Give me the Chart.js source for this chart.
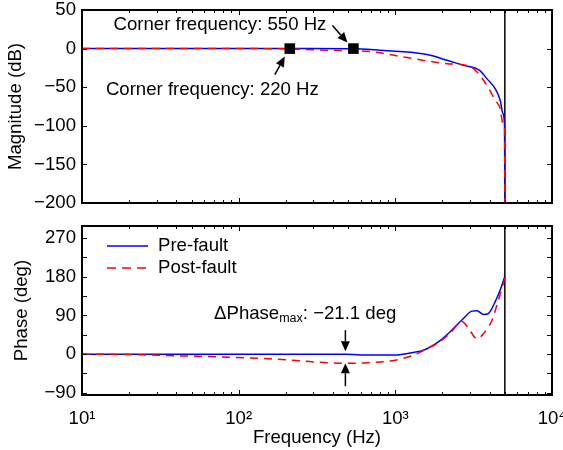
<!DOCTYPE html>
<html>
<head>
<meta charset="utf-8">
<script src="https://cdn.jsdelivr.net/npm/chart.js@4.4.1/dist/chart.umd.min.js"></script>
<style>
  html, body { margin: 0; padding: 0; background: #fff; }
  #wrap { position: relative; width: 563px; height: 450px; }
  #magChart { position: absolute; left: 0; top: 0; }
  #phaseChart { position: absolute; left: 0; top: 215px; }
</style>
</head>
<body>
<div id="wrap">
  <canvas id="magChart" width="563" height="215"></canvas>
  <canvas id="phaseChart" width="563" height="235"></canvas>
</div>
<script>
// magnitude (dB), pre-fault
const magFreqPre = [10, 100, 300, 550, 660, 800, 1000, 1300, 1670, 2140, 2720, 3450, 3840, 4340, 4670, 4860, 4980, 5000];
const magPre = [0, 0, 0, -0.3, -0.9, -2.2, -3.4, -5.2, -8.7, -15.2, -21.7, -28.1, -38.9, -51.9, -67, -84, -101, -200];
// magnitude (dB), post-fault
const magFreqPost = [10, 100, 200, 300, 450, 660, 800, 1000, 1300, 2140, 3000, 3320, 3840, 4340, 4670, 4860, 4980, 5000];
const magPost = [0, 0, -0.3, -1.5, -2.5, -3.5, -5.5, -9, -13, -19.5, -23, -30.3, -47.6, -67, -77.8, -97, -100, -200];

// phase (deg), pre-fault
const phFreqPre = [10, 100, 480, 600, 1000, 1300, 1510, 1890, 2240, 2720, 3080, 3320, 3660, 3940, 4340, 4670, 4900, 5000];
const phPre = [0, 0, 0, -2, -2, 4, 9, 29, 52, 83, 100, 101, 92, 95, 122, 149, 172, 180];
// phase (deg), post-fault
const phFreqPost = [10, 20, 42, 100, 200, 300, 480, 660, 1000, 1300, 1600, 1890, 2240, 2660, 2930, 3320, 3660, 4140, 4450, 4790, 5000];
const phPost = [0, -1, -4, -8, -13, -18, -21.1, -20, -14, -2.5, 13, 27, 49, 76, 60, 36, 48, 79, 114, 153, 178];

// corner frequency markers
const cornerFreq = [212, 540];
const cornerMag = [0, 0];
const cornerText = ['Corner frequency: 220 Hz', 'Corner frequency: 550 Hz'];

// max phase difference
const dPhaseFreq = 480;
const dPhasePre = 0;
const dPhasePost = -21.1;

const nyquist = 5000;

// axis ticks
const decades = [10, 100, 1000, 10000];
const decadeLabels = ['10\u00B9', '10\u00B2', '10\u00B3', '10\u2074'];
const minorSteps = [2, 3, 4, 5, 6, 7, 8, 9];
const magTicks = [-200, -150, -100, -50, 0, 50];
const phaseTicks = [-90, -45, 0, 45, 90, 135, 180, 225, 270];
const phaseLabels = [-90, 0, 90, 180, 270];

const freqTicks = [];
decades.forEach((d, i) => {
    freqTicks.push(d);
    if (i < decades.length - 1) minorSteps.forEach(m => freqTicks.push(d * m));
});

const toPoints = (xs, ys) => xs.map((x, i) => ({ x: x, y: ys[i] }));
const minus = v => String(v).replace('-', '\u2212');

const FONT = "'Liberation Sans', Arial, sans-serif";
Chart.defaults.font.family = FONT;
Chart.defaults.font.size = 18.6;
Chart.defaults.color = '#000';
Chart.defaults.animation = false;

const BLUE = '#0000ff';
const RED = '#ff0000';

// box around the plot with inward tick marks on all four sides
const boxPlugin = {
    id: 'box',
    afterDatasetsDraw(chart) {
        const { ctx, chartArea: a, scales: { x, y } } = chart;
        ctx.save();
        ctx.strokeStyle = '#000';
        ctx.lineWidth = 1;
        ctx.beginPath();
        x.ticks.forEach(t => {
            const px = Math.round(x.getPixelForValue(t.value)) + 0.5;
            const len = decades.includes(t.value) ? 5 : 3;
            ctx.moveTo(px, a.bottom); ctx.lineTo(px, a.bottom - len);
            ctx.moveTo(px, a.top); ctx.lineTo(px, a.top + len);
        });
        y.ticks.forEach(t => {
            const py = Math.round(y.getPixelForValue(t.value)) + 0.5;
            ctx.moveTo(a.left, py); ctx.lineTo(a.left + 5, py);
            ctx.moveTo(a.right, py); ctx.lineTo(a.right - 5, py);
        });
        ctx.stroke();
        ctx.lineWidth = 2;
        ctx.strokeRect(a.left, a.top, a.right - a.left, a.bottom - a.top);
        ctx.restore();
    }
};

function arrow(ctx, x1, y1, x2, y2) {
    const ang = Math.atan2(y2 - y1, x2 - x1);
    const c = Math.cos(ang), s = Math.sin(ang);
    const hl = 10, hw = 4.5;
    ctx.beginPath();
    ctx.moveTo(x1, y1);
    ctx.lineTo(x2 - hl * c, y2 - hl * s);
    ctx.stroke();
    ctx.beginPath();
    ctx.moveTo(x2, y2);
    ctx.lineTo(x2 - hl * c + hw * s, y2 - hl * s - hw * c);
    ctx.lineTo(x2 - hl * c - hw * s, y2 - hl * s + hw * c);
    ctx.closePath();
    ctx.fill();
}

const cornerPlugin = {
    id: 'corner',
    afterDatasetsDraw(chart) {
        const { ctx, scales: { x, y } } = chart;
        const p0 = { x: x.getPixelForValue(cornerFreq[0]), y: y.getPixelForValue(cornerMag[0]) };
        const p1 = { x: x.getPixelForValue(cornerFreq[1]), y: y.getPixelForValue(cornerMag[1]) };
        ctx.save();
        ctx.fillStyle = '#000';
        ctx.strokeStyle = '#000';
        ctx.lineWidth = 1.5;
        ctx.font = '18.6px ' + FONT;
        ctx.textBaseline = 'alphabetic';
        ctx.textAlign = 'right';
        ctx.fillText(cornerText[1], p1.x - 27, p1.y - 19);
        ctx.fillText(cornerText[0], p0.x + 29, p0.y + 46);
        arrow(ctx, p1.x - 21, p1.y - 23, p1.x - 6, p1.y - 6);
        arrow(ctx, p0.x - 15, p0.y + 26, p0.x - 5, p0.y + 8);
        ctx.restore();
    }
};

const phasePlugin = {
    id: 'phaseNotes',
    afterDatasetsDraw(chart) {
        const { ctx, chartArea: a, scales: { x, y } } = chart;
        const px = x.getPixelForValue(dPhaseFreq);
        const yPre = y.getPixelForValue(dPhasePre);
        const yPost = y.getPixelForValue(dPhasePost);
        ctx.save();
        ctx.fillStyle = '#000';
        ctx.strokeStyle = '#000';
        ctx.lineWidth = 1.5;
        arrow(ctx, px, yPre - 24, px, yPre - 3);
        arrow(ctx, px, yPost + 23, px, yPost);

        // ΔPhase_max label, right end sits about 51px right of the arrows
        const big = '18.6px ' + FONT;
        const small = '12.5px ' + FONT;
        const base = yPre - 35;
        const tail = ': ' + minus(dPhasePost) + ' deg';
        ctx.textBaseline = 'alphabetic';
        ctx.textAlign = 'left';
        ctx.font = big;
        const w1 = ctx.measureText('\u0394Phase').width;
        const w3 = ctx.measureText(tail).width;
        ctx.font = small;
        const w2 = ctx.measureText('max').width;
        let tx = px + 51 - (w1 + w2 + w3);
        ctx.font = big;
        ctx.fillText('\u0394Phase', tx, base);
        tx += w1;
        ctx.font = small;
        ctx.fillText('max', tx, base + 3);
        tx += w2;
        ctx.font = big;
        ctx.fillText(tail, tx, base);

        // legend
        const lx = a.left + 25, ly1 = a.top + 20, ly2 = a.top + 42;
        ctx.lineWidth = 1.5;
        ctx.strokeStyle = BLUE;
        ctx.beginPath(); ctx.moveTo(lx, ly1); ctx.lineTo(lx + 41, ly1); ctx.stroke();
        ctx.strokeStyle = RED;
        ctx.setLineDash([9, 6]);
        ctx.beginPath(); ctx.moveTo(lx, ly2); ctx.lineTo(lx + 41, ly2); ctx.stroke();
        ctx.setLineDash([]);
        ctx.textBaseline = 'middle';
        ctx.fillText('Pre-fault', lx + 51, ly1);
        ctx.fillText('Post-fault', lx + 51, ly2);
        ctx.restore();
    }
};

function freqAxis(showLabels, height) {
    return {
        type: 'logarithmic',
        min: 10,
        max: 10000,
        grid: { display: false, drawTicks: false },
        border: { display: false },
        afterBuildTicks: s => { s.ticks = freqTicks.map(v => ({ value: v })); },
        afterFit: s => { s.height = height; s.paddingLeft = 0; s.paddingRight = 0; },
        ticks: {
            display: showLabels,
            autoSkip: false,
            maxRotation: 0,
            padding: 13,
            callback: v => {
                const i = decades.indexOf(v);
                return i >= 0 ? decadeLabels[i] : '';
            }
        },
        title: {
            display: showLabels,
            text: 'Frequency (Hz)',
            padding: { top: 0, bottom: 1 }
        }
    };
}

function lineSet(data, color, dash) {
    return {
        data: data,
        borderColor: color,
        borderWidth: 1.5,
        borderDash: dash,
        pointRadius: 0,
        cubicInterpolationMode: 'monotone',
        fill: false
    };
}

const magChart = new Chart(document.getElementById('magChart'), {
    type: 'line',
    data: {
        datasets: [
            {
                data: toPoints(cornerFreq, cornerMag),
                showLine: false,
                pointStyle: 'rect',
                pointRadius: 7.5,
                pointBackgroundColor: '#000',
                pointBorderWidth: 0
            },
            lineSet(toPoints(magFreqPost, magPost), RED, [8, 6]),
            lineSet(toPoints(magFreqPre, magPre), BLUE, []),
            lineSet([{ x: nyquist, y: -200 }, { x: nyquist, y: 50 }], '#000', [])
        ]
    },
    options: {
        responsive: false,
        layout: { padding: { top: 10, right: 11, left: 0, bottom: 0 } },
        plugins: { legend: { display: false }, tooltip: { enabled: false } },
        scales: {
            x: freqAxis(false, 12),
            y: {
                min: -200,
                max: 50,
                grid: { display: false, drawTicks: false },
                border: { display: false },
                afterBuildTicks: s => { s.ticks = magTicks.map(v => ({ value: v })); },
                afterFit: s => { s.width = 82; s.paddingTop = 0; s.paddingBottom = 0; },
                ticks: { padding: 6, autoSkip: false, callback: v => minus(v) },
                title: { display: true, text: 'Magnitude (dB)', padding: { top: 5, bottom: 0 } }
            }
        }
    },
    plugins: [boxPlugin, cornerPlugin]
});

const phaseChart = new Chart(document.getElementById('phaseChart'), {
    type: 'line',
    data: {
        datasets: [
            lineSet(toPoints(phFreqPost, phPost), RED, [8, 6]),
            lineSet(toPoints(phFreqPre, phPre), BLUE, []),
            lineSet([{ x: nyquist, y: -95 }, { x: nyquist, y: 298 }], '#000', [])
        ]
    },
    options: {
        responsive: false,
        layout: { padding: { top: 11, right: 11, left: 0, bottom: 0 } },
        plugins: { legend: { display: false }, tooltip: { enabled: false } },
        scales: {
            x: freqAxis(true, 55),
            y: {
                min: -95,
                max: 298,
                grid: { display: false, drawTicks: false },
                border: { display: false },
                afterBuildTicks: s => { s.ticks = phaseTicks.map(v => ({ value: v })); },
                afterFit: s => { s.width = 82; s.paddingTop = 0; s.paddingBottom = 0; },
                ticks: {
                    padding: 6,
                    autoSkip: false,
                    callback: v => phaseLabels.includes(v) ? minus(v) : ''
                },
                title: { display: true, text: 'Phase (deg)', padding: { top: 11, bottom: 0 } }
            }
        }
    },
    plugins: [boxPlugin, phasePlugin]
});
</script>
</body>
</html>
